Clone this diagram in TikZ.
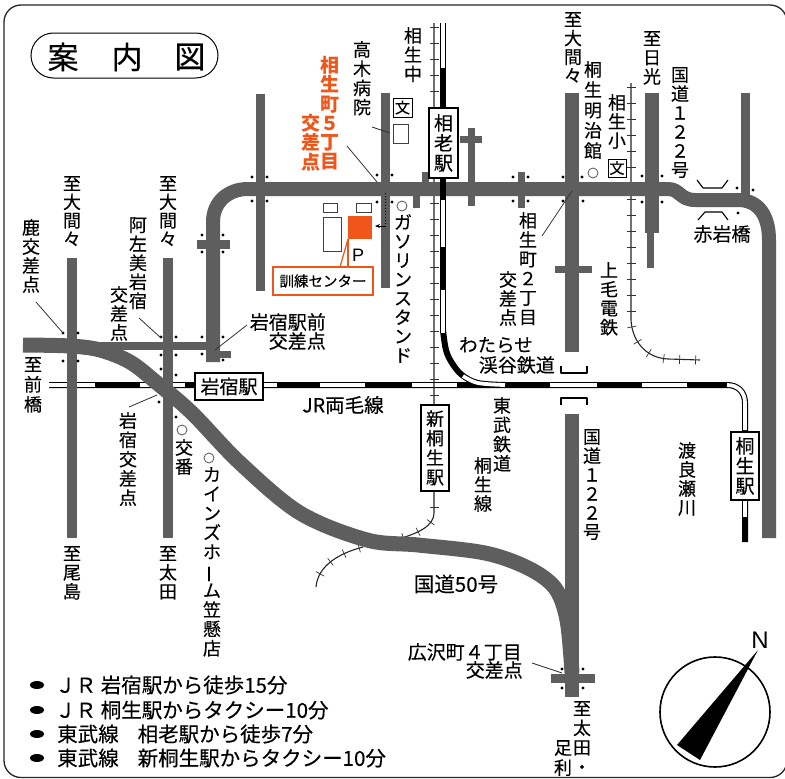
\documentclass[tikz,border=0pt]{standalone}
\usepackage{fontspec}
\usepackage{graphicx}
\usetikzlibrary{decorations.markings,arrows.meta}
\newfontfamily\cjk[FakeBold=0.25]{Noto Sans CJK JP}
\newfontfamily\cjkb{Noto Sans CJK JP}
\setsansfont{Liberation Sans}
\definecolor{roadc}{HTML}{5E5E5E}
\definecolor{orangec}{HTML}{F0561A}
\definecolor{circc}{HTML}{666666}
\newcommand{\vbar}{\rotatebox[origin=c]{90}{ー}}
\tikzset{
  vt/.style 2 args={inner sep=0pt,anchor=north,align=center,text=black,font=\cjk\fontsize{#1}{#2}\selectfont},
  ht/.style={inner sep=0pt,anchor=center,font=\cjk\fontsize{#1}{#1}\selectfont},
  road/.style={draw=roadc,line width=#1,line cap=butt},
  leader/.style={draw=black!80,line width=.8pt},
  bldg/.style={draw=black!75,line width=.8pt,fill=white},
  stationbox/.style={draw=black,line width=1.1pt,fill=white},
  ticked/.style={draw=black!85,line width=1.1pt,postaction={decorate},decoration={markings,mark=between positions 4pt and 1 step 16pt with {\draw[line width=.7pt,black!80] (0pt,-4.5pt)--(0pt,4.5pt);}}},
  railbase/.style={draw=black,line width=6pt},
  railwhite/.style={draw=white,line width=3.8pt},
  bridge/.style={draw=black,line width=1.1pt,line join=round},
  poi/.style={draw=circc,line width=.9pt,fill=white},
}
\begin{document}
\begin{tikzpicture}[x=1pt,y=-1pt]
\useasboundingbox (0,0) rectangle (785,779);
\fill[white] (0,0) rectangle (785,779);
\begin{scope}
\clip (0,0) rectangle (785,779);
\draw[black!85,line width=1.3pt,rounded corners=17pt] (4,5) rectangle (787,777.5);
\end{scope}
% title
\draw[black,line width=1pt,rounded corners=22.5pt] (31,33) rectangle (218,78);
\node[ht=31] (t1) at (63,57) {案};
\node[ht=31] (t2) at (127,57) {内};
\node[ht=31] (t3) at (190,57) {図};
% JR rail
\path[railbase] (49,385) -- (727,385) .. controls (738,385) and (745,392) .. (745,403) -- (745,542);
\foreach \a/\b in {49/95,140/185,320/365,412/457,550/597,642/687}{
  \draw[railwhite] (\a,385) -- (\b,385);}
\draw[railwhite] (263,385) -- (277,385);
\draw[railwhite] (727,385) .. controls (738,385) and (745,392) .. (745,403) -- (745,430);
\draw[railwhite] (745,500) -- (745,517);
% thin ticked rails
\path[ticked] (434,23) -- (434,513) .. controls (434,525) and (420,533) .. (398,539);
\path[ticked] (631,83) -- (631,320) .. controls (632,340) and (645,358) .. (668,359) -- (700,360);
\path[ticked] (363,547) .. controls (340,553) and (318,565) .. (316,587);
% roads
\draw[road=9.5pt] (72,258) -- (72,538);
\draw[road=9.5pt] (168,258) -- (168,538);
\draw[road=9pt] (260,94) -- (260,291);
\draw[road=9pt] (385,93) -- (385,288);
\draw[road=7pt] (471,128) -- (471,206);
\draw[road=7pt] (460,139) -- (482,139);
\draw[road=7pt] (521,172) -- (521,208);
\draw[road=7pt] (425,172) -- (425,189);
\draw[road=7pt] (416,189) -- (416,208);
\draw[road=14pt] (572,93) -- (572,352);
\draw[road=7pt] (555,269) -- (592,269);
\draw[road=14pt] (652,93) -- (652,233);
\draw[road=7pt] (650,230) -- (650,268);
\draw[road=9pt] (745,93) -- (745,197);
\draw[road=14pt] (213,362) -- (213,222) .. controls (213,202) and (228,189) .. (248,189) -- (668,189) .. controls (680,189) and (680,200) .. (695,200) -- (738,200) .. controls (758,200) and (769,215) .. (769,240) -- (769,538);
\draw[road=9pt] (197,244) -- (230,244);
\draw[road=7pt] (213,354) -- (231,354);
\draw[road=8.5pt] (70,346) -- (213,346);
\draw[road=14pt] (572,414) -- (572,697);
\draw[road=9pt] (551,678) -- (595,678);
\draw[road=15pt] plot[smooth,tension=.55] coordinates {(23,345) (70,346) (100,350) (130,362) (157,383) (192,413) (240,463) (300,513) (367,540) (418,545) (485,553) (528,568) (555,588) (567,620) (572,673)};
% Tobu line
\path[railbase] (443,23) -- (443,333);
\draw[railbase] plot[smooth,tension=.6] coordinates {(443,330) (446,350) (452,363) (462,375) (478,383) (505,385)};
\draw[railwhite] (443,23) -- (443,68);
\draw[railwhite] (443,200) -- (443,247);
\draw[railwhite] (443,290) -- (443,333);
\draw[railwhite] plot[smooth,tension=.6] coordinates {(463,376) (478,383) (505,385)};
% intersection dots
\foreach \p in {(252,177),(267,177),(252,201),(267,201),(377,175),(377,202),(392,175),(392,202),
  (202,235),(223,235),(202,252),(223,252),(63,333),(78,333),(63,361),(78,361),
  (161,337),(176,337),(161,355),(176,355),(161,369),(176,375),(202,337),(223,337),(202,354),(223,360),
  (159,402),(176,417),(513,177),(528,177),(513,201),(528,201),(563,177),(582,177),(563,201),(583,201),
  (642,176),(662,176),(642,202),(662,202),(737,188),(753,190),(738,213),(562,669),(583,669),(562,688),(583,688)}{
  \fill[black] \p circle[radius=1.7pt];}
% bridges
\draw[bridge] (561,366) -- (561,373) -- (587,373) -- (587,366);
\draw[bridge] (561,405) -- (561,398) -- (587,398) -- (587,405);
\draw[bridge] (697,180) -- (703,188) -- (722,188) -- (728,180);
\draw[bridge] (698,220) -- (705,212) -- (722,212) -- (728,220);
% buildings
\draw[bldg] (323,203) rectangle (337,212);
\draw[bldg] (323,217) rectangle (341,251);
\draw[bldg] (356,203) rectangle (371,212);
\draw[bldg] (393,124) rectangle (408,143);
\fill[orangec] (348,216) rectangle (372,239);
\draw[orangec,line width=1.2pt] (348,239) -- (340,267);
\draw[orangec,line width=1.2pt] (348,239) -- (348,267);
\node[draw=orangec,line width=1.2pt,minimum width=100pt,minimum height=28pt,inner sep=0pt,font=\cjk\fontsize{14.5}{15}\selectfont] (kunren) at (323,281) {訓練センター};
\node[inner sep=0pt,font=\sffamily\fontsize{18}{18}\selectfont] (pk) at (358,255) {P};
% walk arrow
\draw[black,line width=1pt,dotted] (385,193) -- (385,226);
\draw[black,line width=.8pt,-{Stealth[length=5pt,width=4pt]}] (386,226) -- (375,226);
% school boxes
\node[draw=black,line width=1pt,fill=white,minimum size=19pt,inner sep=0pt,font=\cjk\fontsize{15}{15}\selectfont] (s1) at (402.5,107.5) {文};
\node[draw=black,line width=1pt,fill=white,minimum size=18pt,inner sep=0pt,font=\cjk\fontsize{15}{15}\selectfont] (s2) at (617,168) {文};
% POI circles
\draw[poi] (402,206) circle[radius=5pt];
\draw[poi] (593,173) circle[radius=5pt];
\draw[poi] (182,430) circle[radius=5pt];
\draw[poi] (209,458) circle[radius=5pt];
% leaders
\coordinate (la1) at (372,127); \coordinate (la2) at (390,133);
\draw[leader] (la1) -- (la2);
\coordinate (lb1) at (347,146); \coordinate (lb2) at (377,182);
\draw[leader] (lb1) -- (lb2);
\coordinate (lc1) at (36,302); \coordinate (lc2) at (63,333);
\draw[leader] (lc1) -- (lc2);
\coordinate (ld1) at (139,318); \coordinate (ld2) at (161,338);
\draw[leader] (ld1) -- (ld2);
\coordinate (le1) at (247,325); \coordinate (le2) at (215,350);
\draw[leader] (le1) -- (le2);
\coordinate (lf1) at (542,236); \coordinate (lf2) at (572,191);
\draw[leader] (lf1) -- (lf2);
\coordinate (lg1) at (129,407); \coordinate (lg2) at (157,395);
\draw[leader] (lg1) -- (lg2);
\coordinate (lh1) at (532,663); \coordinate (lh2) at (562,673);
\draw[leader] (lh1) -- (lh2);
% stations
\node[stationbox,minimum width=68pt,minimum height=27pt,inner sep=0pt,font=\cjk\fontsize{19}{19}\selectfont] (st1) at (229,386.5) {岩宿駅};
\node[stationbox,minimum width=29pt,minimum height=70pt,inner sep=0pt,align=center,font=\cjk\fontsize{19}{20}\selectfont] (st2) at (443.5,143) {相\\老\\駅};
\node[stationbox,minimum width=28pt,minimum height=86pt,inner sep=0pt,align=center,font=\cjk\fontsize{18}{19.5}\selectfont] (st3) at (435,448) {新\\桐\\生\\駅};
\node[stationbox,minimum width=28pt,minimum height=68pt,inner sep=0pt,align=center,font=\cjk\fontsize{19}{20}\selectfont] (st4) at (745,466) {桐\\生\\駅};
% vertical labels
\node[vt={18}{18.5}] (a1) at (72,176) {至\\大\\間\\々};
\node[vt={18}{18.5}] (a2) at (168,176) {至\\大\\間\\々};
\node[vt={18}{19}] (a3) at (31,219) {鹿\\交\\差\\点};
\node[vt={18}{19}] (a4) at (138,217) {阿\\左\\美\\岩\\宿};
\node[vt={18}{19}] (a5) at (119,286) {交\\差\\点};
\node[vt={18}{20}] (a6) at (33,357) {至\\前\\橋};
\node[vt={18}{19.2}] (a7) at (362,41) {高\\木\\病\\院};
\node[vt={19}{19.3},text=orangec,font=\cjkb\bfseries\fontsize{19}{19.3}\selectfont] (a8) at (330,56) {相\\生\\町\\５\\丁\\目};
\node[vt={19}{19.3},text=orangec,font=\cjkb\bfseries\fontsize{19}{19.3}\selectfont] (a9) at (311,114) {交\\差\\点};
\node[vt={18}{19.2}] (a10) at (413,27) {相\\生\\中};
\node[vt={18}{18.7}] (a11) at (573,12) {至\\大\\間\\々};
\node[vt={18}{20.3}] (a12) at (593,61) {桐\\生\\明\\治\\館};
\node[vt={18}{19}] (a13) at (617,94) {相\\生\\小};
\node[vt={18}{19}] (a14) at (652,31) {至\\日\\光};
\node[vt={18}{19}] (a15) at (680,67) {国\\道\\１\\２\\２\\号};
\node[vt={18}{19.3}] (a16) at (528,212) {相\\生\\町\\２\\丁\\目};
\node[vt={18}{19}] (a17) at (508,271) {交\\差\\点};
\node[vt={18}{19}] (a18) at (609,262) {上\\毛\\電\\鉄};
\node[vt={18}{19}] (a19) at (403,214) {ガ\\ソ\\リ\\ン\\ス\\タ\\ン\\ド};
\node[vt={18}{19.3}] (a20) at (502,397) {東\\武\\鉄\\道};
\node[vt={18}{19}] (a21) at (483,457) {桐\\生\\線};
\node[vt={18}{19}] (a22) at (592,429) {国\\道\\１\\２\\２\\号};
\node[vt={18}{19}] (a23) at (687,442) {渡\\良\\瀬\\川};
\node[vt={18}{19.3}] (a24) at (128,412) {岩\\宿\\交\\差\\点};
\node[vt={18}{19}] (a25) at (184,439) {交\\番};
\node[vt={18}{19.3}] (a26) at (212,467) {カ\\イ\\ン\\ズ\\ホ\\\vbar\\ム\\笠\\懸\\店};
\node[vt={18}{19}] (a27) at (72,546) {至\\尾\\島};
\node[vt={18}{19}] (a28) at (168,546) {至\\太\\田};
\node[vt={18}{19.5}] (a29) at (582,701) {至\\太\\田\\・};
\node[vt={18}{20}] (a30) at (563,740) {足\\利};
% horizontal labels
\node[ht=19] (b1) at (722,234) {赤岩橋};
\node[ht=18.5,anchor=east] (b2) at (533,345) {わたらせ};
\node[ht=19,anchor=east] (b3) at (555,365) {渓谷鉄道};
\node[ht=19,anchor=east] (b4) at (326,322) {岩宿駅前};
\node[ht=19,anchor=east] (b5) at (326,341) {交差点};
\node[ht=19.5] (b6) at (343,405) {JR両毛線};
\node[ht=20.5] (b7) at (456,584) {国道50号};
\node[ht=19,anchor=east] (b8) at (522,652) {広沢町４丁目};
\node[ht=19,anchor=east] (b9) at (523,670) {交差点};
% bullets
\fill[black] (37,685) ellipse[x radius=7pt,y radius=4pt];
\fill[black] (37,710) ellipse[x radius=7pt,y radius=4pt];
\fill[black] (37,734) ellipse[x radius=7pt,y radius=4pt];
\fill[black] (37,758) ellipse[x radius=7pt,y radius=4pt];
\node[ht=20.5,anchor=west] (c1) at (55,685) {ＪＲ 岩宿駅から徒歩15分};
\node[ht=20.5,anchor=west] (c2) at (55,710) {ＪＲ 桐生駅からタクシー10分};
\node[ht=20.5,anchor=west] (c3) at (57,734) {東武線\hspace{19pt}相老駅から徒歩7分};
\node[ht=20.5,anchor=west] (c4) at (57,758) {東武線\hspace{19pt}新桐生駅からタクシー10分};
% compass
\draw[black,line width=1.6pt] (715,712) circle[radius=55pt];
\fill[black] (677,745) -- (758,650) -- (700,760) -- cycle;
\node[inner sep=0pt,font=\sffamily\fontsize{24}{24}\selectfont] (north) at (760,640) {N};
\end{tikzpicture}
\end{document}
